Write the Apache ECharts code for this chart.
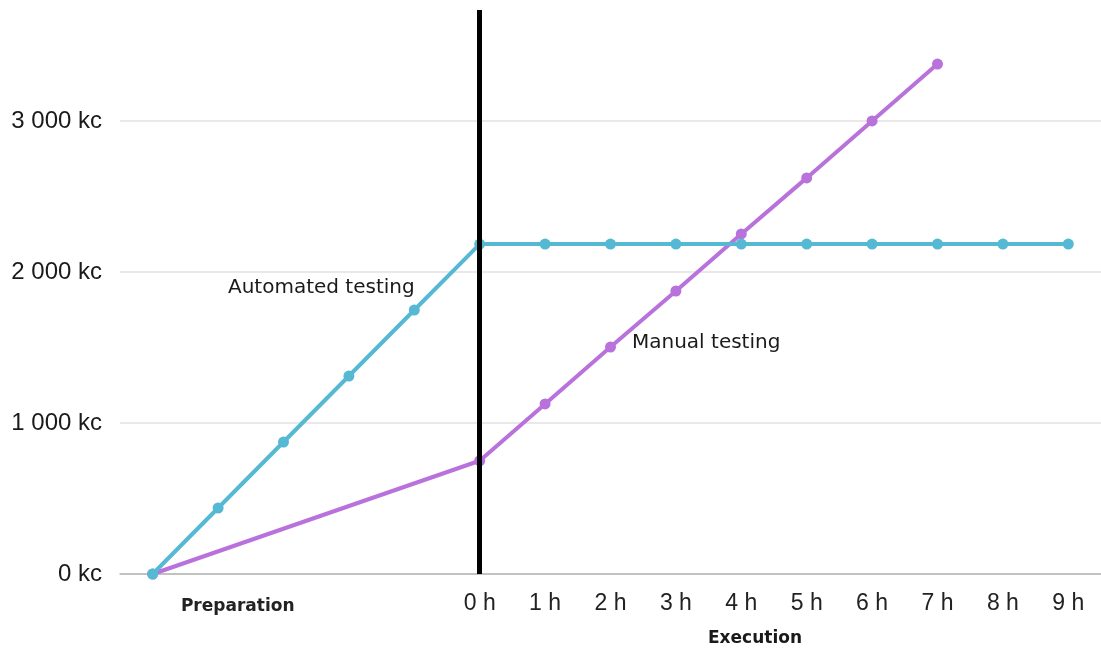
<!DOCTYPE html>
<html><head><meta charset="utf-8">
<script src="https://cdn.jsdelivr.net/npm/echarts@6/dist/echarts.min.js"></script>
<style>html,body{margin:0;padding:0;background:#fff}#c{width:1101px;height:651px}</style>
</head><body><div id="c"></div>
<script>
const categories = ['Preparation','','','','','0 h','1 h','2 h','3 h','4 h','5 h','6 h','7 h','8 h','9 h'];
const automated = [0, 437, 874, 1311, 1748, 2185, 2185, 2185, 2185, 2185, 2185, 2185, 2185, 2185, 2185];
const manual = [0, null, null, null, null, 750, 1126, 1503, 1874, 2252, 2623, 3000, 3377, null, null];
const yTicks = [0, 1000, 2000, 3000];
const dividerCategory = '0 h';
const dividerTop = 3735;

const chart = echarts.init(document.getElementById('c'));
chart.setOption({
  animation: false,
  grid: { left: 120, top: 0, width: 986, height: 574 },
  xAxis: {
    type: 'category', data: categories, boundaryGap: true,
    axisLine: { lineStyle: { color: '#b5b5b5', width: 1.5 } },
    axisTick: { show: false },
    axisLabel: {
      interval: 0, margin: 18, color: '#222', fontFamily: 'Arial, "Liberation Sans", sans-serif', fontSize: 23,
      formatter: function (v, i) { return i === 0 ? '{p|' + v + '}' : '{h|' + v + '}'; },
      rich: {
        p: { fontFamily: '"DejaVu Sans"', fontWeight: 'bold', fontSize: 17, color: '#222', padding: [6, 0, 0, 170] },
        h: { fontFamily: 'Arial, "Liberation Sans", sans-serif', fontSize: 23, color: '#222' }
      }
    }
  },
  yAxis: {
    type: 'value', min: 0, max: 3801, interval: 1000,
    axisLine: { show: false }, axisTick: { show: false },
    splitLine: { showMaxLine: false, lineStyle: { color: '#e2e2e2', width: 1.5 } },
    axisLabel: {
      margin: 18, color: '#1a1a1a', fontFamily: 'Arial, "Liberation Sans", sans-serif', fontSize: 24, showMaxLabel: false,
      formatter: function (v) { return yTicks.indexOf(v) < 0 ? '' : (v === 0 ? '0 kc' : (v / 1000) + ' 000 kc'); }
    }
  },
  series: [
    {
      name: 'Manual testing', type: 'line', data: manual, connectNulls: true,
      symbol: 'circle', symbolSize: 11, showSymbol: true,
      lineStyle: { color: '#b972dc', width: 4 }, itemStyle: { color: '#b972dc' }, z: 2
    },
    {
      name: 'Automated testing', type: 'line', data: automated,
      symbol: 'circle', symbolSize: 11,
      lineStyle: { color: '#55b9d3', width: 4 }, itemStyle: { color: '#55b9d3' }, z: 3,
      markLine: {
        silent: true, symbol: 'none', label: { show: false },
        lineStyle: { color: '#000', width: 5, type: 'solid' },
        data: [[{ coord: [dividerCategory, 0] }, { coord: [dividerCategory, dividerTop] }]]
      }
    }
  ],
  graphic: [
    { type: 'text', left: 228, top: 278, style: { text: 'Automated testing', font: '20px "DejaVu Sans"', fill: '#1a1a1a' } },
    { type: 'text', left: 632, top: 333, style: { text: 'Manual testing', font: '20px "DejaVu Sans"', fill: '#1a1a1a' } },
    { type: 'text', left: 708, top: 630, style: { text: 'Execution', font: 'bold 17px "DejaVu Sans"', fill: '#1a1a1a' } }
  ]
});
</script></body></html>
